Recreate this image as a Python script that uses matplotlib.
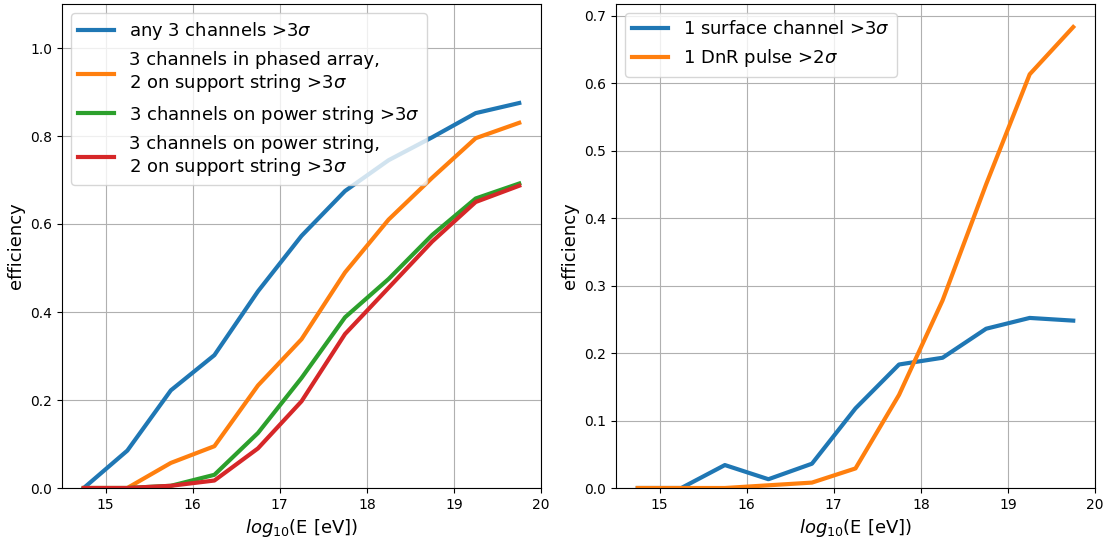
import numpy as np
from matplotlib import pyplot as plt

logE = [14.75, 15.25, 15.75, 16.25, 16.75, 17.25, 17.75, 18.25, 18.75, 19.25, 19.75]

# left panel
any3 = [0.0, 0.085, 0.222, 0.302, 0.447, 0.573, 0.675, 0.745, 0.797, 0.852, 0.875]
pa_support = [0.0, 0.0, 0.057, 0.095, 0.233, 0.338, 0.49, 0.61, 0.705, 0.795, 0.83]
power3 = [0.0, 0.0, 0.005, 0.03, 0.125, 0.25, 0.388, 0.475, 0.575, 0.658, 0.692]
power_support = [0.0, 0.0, 0.005, 0.017, 0.09, 0.197, 0.35, 0.455, 0.56, 0.65, 0.687]

# right panel
surface1 = [0.0, 0.0, 0.034, 0.013, 0.036, 0.118, 0.183, 0.193, 0.236, 0.252, 0.248]
dnr1 = [0.0, 0.0, 0.0, 0.004, 0.008, 0.029, 0.138, 0.278, 0.45, 0.613, 0.683]

fig = plt.figure(figsize=(11.06, 5.38), dpi=100)
ax1 = fig.add_axes([62/1106, 50/538, 479/1106, 484/538])
ax2 = fig.add_axes([616/1106, 50/538, 479/1106, 484/538])

lw = 3
ax1.plot(logE, any3, lw=lw, label=r'any 3 channels >3$\sigma$')
ax1.plot(logE, pa_support, lw=lw, label='3 channels in phased array,\n2 on support string >3$\\sigma$')
ax1.plot(logE, power3, lw=lw, label=r'3 channels on power string >3$\sigma$')
ax1.plot(logE, power_support, lw=lw, label='3 channels on power string,\n2 on support string >3$\\sigma$')
ax1.set_ylim(0, 1.1)

ax2.plot(logE, surface1, lw=lw, label=r'1 surface channel >3$\sigma$')
ax2.plot(logE, dnr1, lw=lw, label=r'1 DnR pulse >2$\sigma$')
ax2.set_ylim(bottom=0)

for ax in (ax1, ax2):
    ax.grid(True)
    ax.set_xlabel(r'$log_{10}$(E [eV])', fontsize=13)
    ax.set_ylabel('efficiency', fontsize=13)
    ax.legend(loc='upper left', fontsize=13)

plt.savefig("out.png")
